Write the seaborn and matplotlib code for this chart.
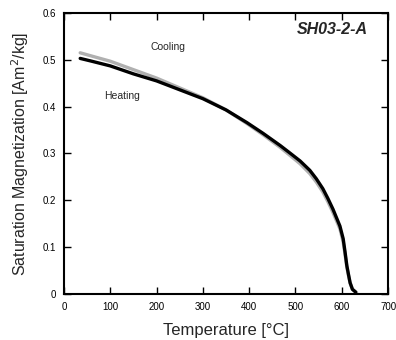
import matplotlib
matplotlib.use("Agg")
import matplotlib.pyplot as plt
import pandas as pd
import seaborn as sns

# ---------------------------------------------------------------
# DATA
# ---------------------------------------------------------------
heat_temp = [35, 60, 100, 150, 200, 250, 300, 350, 395, 430, 467, 488,
             510, 531, 545, 559, 570, 581, 596, 603, 607, 611, 615, 618,
             623, 630]
heat_ms = [0.503, 0.497, 0.487, 0.470, 0.455, 0.436, 0.417, 0.393, 0.366,
           0.343, 0.317, 0.301, 0.284, 0.264, 0.246, 0.225, 0.204, 0.181,
           0.145, 0.118, 0.090, 0.060, 0.039, 0.024, 0.010, 0.004]

cool_temp = [35, 60, 100, 150, 200, 250, 300, 350, 395, 430, 467, 488,
             510, 531, 545, 559, 570, 581, 596, 603, 607, 611, 615, 618,
             623, 632]
cool_ms = [0.515, 0.508, 0.497, 0.479, 0.461, 0.440, 0.419, 0.393, 0.364,
           0.340, 0.313, 0.296, 0.278, 0.257, 0.239, 0.218, 0.197, 0.174,
           0.139, 0.111, 0.085, 0.057, 0.037, 0.023, 0.010, 0.003]

x_ticks = [0, 100, 200, 300, 400, 500, 600, 700]
y_ticks = [0, 0.1, 0.2, 0.3, 0.4, 0.5, 0.6]
y_tick_labels = ["0", "0.1", "0.2", "0.3", "0.4", "0.5", "0.6"]

df = pd.concat([
    pd.DataFrame({"T": heat_temp, "Ms": heat_ms, "run": "Heating"}),
    pd.DataFrame({"T": cool_temp, "Ms": cool_ms, "run": "Cooling"}),
])

# ---------------------------------------------------------------
# PLOT
# ---------------------------------------------------------------
sns.set_style("ticks")
plt.rcParams["font.family"] = ["Liberation Sans", "DejaVu Sans"]

fig = plt.figure(figsize=(3.96, 3.40), dpi=100)
ax = fig.add_axes([0.1616, 0.1353, 0.8184, 0.8265])

sns.lineplot(data=df, x="T", y="Ms", hue="run",
             hue_order=["Cooling", "Heating"],
             palette={"Heating": "black", "Cooling": "#b0b0b0"},
             linewidth=2.4, legend=False, sort=False, ax=ax)

ax.set_xlim(0, 700)
ax.set_ylim(0, 0.6)
ax.set_xticks(x_ticks)
ax.set_yticks(y_ticks)
ax.set_yticklabels(y_tick_labels)
ax.tick_params(direction="in", length=5, width=1, labelsize=7,
               top=True, right=True, pad=6, colors="black")
for lbl in ax.get_xticklabels() + ax.get_yticklabels():
    lbl.set_family(["Liberation Sans Narrow", "Liberation Sans"])
for sp in ax.spines.values():
    sp.set_visible(True)
    sp.set_linewidth(1.5)
    sp.set_color("black")

ax.set_xlabel("Temperature [\u00b0C]", fontsize=12, labelpad=8)
ax.set_ylabel("Saturation Magnetization [Am$^2$/kg]", fontsize=11.5,
              labelpad=8)

ax.text(225, 0.528, "Cooling", fontsize=7.5, ha="center", va="center")
ax.text(125, 0.423, "Heating", fontsize=7.5, ha="center", va="center")
ax.text(580, 0.565, "SH03-2-A", fontsize=11.5, fontweight="bold",
        fontstyle="italic", ha="center", va="center",
        family=["Liberation Sans Narrow", "Liberation Sans"])

fig.savefig("out.png", dpi=100)
